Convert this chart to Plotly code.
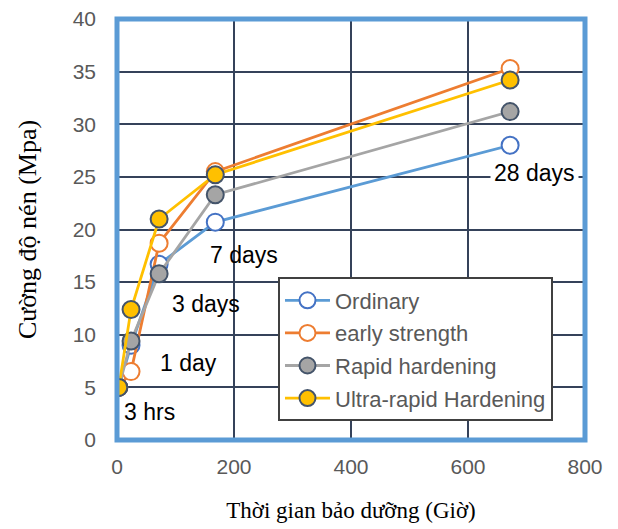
import plotly.graph_objects as go

hours = [3, 24, 72, 168, 672]
ordinary = [5.0, 9.0, 16.7, 20.7, 28.0]
early_strength = [5.0, 6.5, 18.7, 25.5, 35.3]
rapid_hardening = [5.0, 9.4, 15.8, 23.3, 31.2]
ultra_rapid = [5.0, 12.4, 21.0, 25.2, 34.2]

series_names = ["Ordinary", "early strength", "Rapid hardening", "Ultra-rapid Hardening"]
x_ticks = [0, 200, 400, 600, 800]
y_ticks = [0, 5, 10, 15, 20, 25, 30, 35, 40]

age_labels = ["3 hrs", "1 day", "3 days", "7 days", "28 days"]
age_label_x = [56, 123, 152, 217, 714]
age_label_y = [2.66, 7.3, 12.9, 17.6, 25.4]

styles = [
    dict(line="#5B9BD5", fill="white", edge="#4472C4"),
    dict(line="#ED7D31", fill="white", edge="#ED7D31"),
    dict(line="#A5A5A5", fill="#A5A5A5", edge="#44546A"),
    dict(line="#FFC000", fill="#FFC000", edge="#44546A"),
]

sans = "Liberation Sans, Arial, sans-serif"
serif = "Liberation Serif, Times New Roman, serif"

fig = go.Figure()
for i, (name, vals) in enumerate(zip(series_names, [ordinary, early_strength, rapid_hardening, ultra_rapid])):
    s = styles[i]
    fig.add_trace(go.Scatter(
        x=hours, y=vals, name=name, mode="lines+markers",
        legendgroup=f"g{i}",
        line=dict(color=s["line"], width=2.8),
        marker=dict(size=17, color=s["fill"], line=dict(color=s["edge"], width=2)),
    ))

for t, ax, ay in zip(age_labels, age_label_x, age_label_y):
    fig.add_annotation(
        x=ax, y=ay, text=t, showarrow=False,
        font=dict(family=sans, size=23, color="black"),
        bgcolor="white" if t == "28 days" else "rgba(0,0,0,0)",
        borderpad=3,
    )

grid_color = "#35425A"
fig.update_xaxes(
    range=[0, 800], tickvals=x_ticks, showgrid=True, gridcolor=grid_color, gridwidth=2,
    zeroline=False, showline=False, ticks="", automargin=False,
    tickfont=dict(family=sans, size=21, color="#595959"),
    ticklabelstandoff=12, ticklabeloverflow="allow",
    title=dict(text="Thời gian bảo dưỡng (Giờ)",
               font=dict(family=serif, size=23, color="black"),
               standoff=24),
)
fig.update_yaxes(
    range=[0, 40], tickvals=y_ticks, showgrid=True, gridcolor=grid_color, gridwidth=2,
    zeroline=False, showline=False, ticks="", automargin=False,
    tickfont=dict(family=sans, size=21, color="#595959"),
    ticklabelstandoff=20, ticklabeloverflow="allow",
    title=dict(text="Cường độ nén (Mpa)",
               font=dict(family=serif, size=26, color="black"),
               standoff=28),
)

fig.add_shape(type="rect", xref="paper", yref="paper", x0=0, x1=1, y0=0, y1=1,
              line=dict(color="#5B9BD5", width=5), layer="above")

fig.update_layout(
    width=610, height=521,
    margin=dict(l=109, r=33, t=11, b=89, autoexpand=False),
    paper_bgcolor="white", plot_bgcolor="white",
    showlegend=True,
    legend=dict(
        x=0.344, y=0.386, xanchor="left", yanchor="top",
        bgcolor="white", bordercolor="#404040", borderwidth=2,
        font=dict(family=sans, size=22, color="#595959"),
        traceorder="grouped", tracegroupgap=1, itemwidth=45,
    ),
)

fig.write_html("out.html")
